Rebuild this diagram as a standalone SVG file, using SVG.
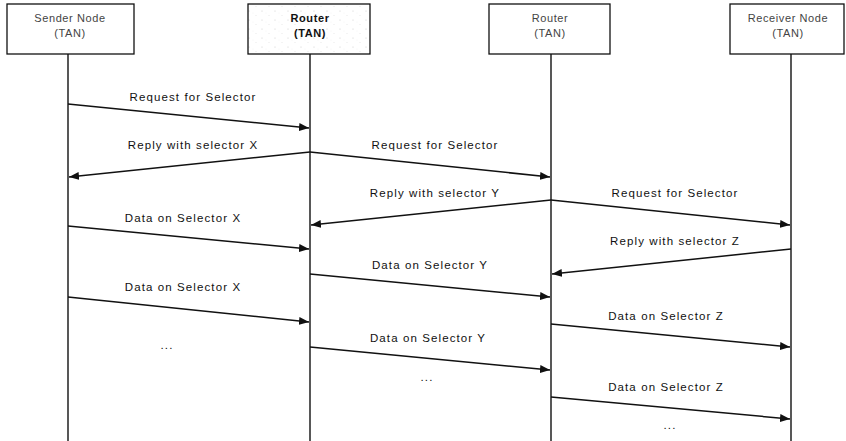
<svg xmlns="http://www.w3.org/2000/svg" width="846" height="441" viewBox="0 0 846 441">
  <style>
    .box { fill: #ffffff; stroke: #111; stroke-width: 1.3; }
    .life { stroke: #111; stroke-width: 1.4; fill: none; }
    .msg { stroke: #111; stroke-width: 1.5; fill: none; marker-end: url(#head); }
    .title { font-family: "Liberation Sans", Arial, sans-serif; font-size: 11px; fill: #444; text-anchor: middle; letter-spacing: 0.6px; }
    .title.strong { fill: #111; font-weight: bold; }
    .lbl { font-family: "Liberation Sans", Arial, sans-serif; font-size: 11.5px; fill: #111; text-anchor: middle; letter-spacing: 1.1px; }
  </style>
  <defs>
    <marker id="head" viewBox="0 0 10 8" refX="10" refY="4" markerWidth="10" markerHeight="8" markerUnits="userSpaceOnUse" orient="auto">
      <path d="M0,0 L10,4 L0,8 z" fill="#111"/>
    </marker>
    <!-- light speckle texture for the shaded router box -->
    <pattern id="stipple" width="13" height="9" patternUnits="userSpaceOnUse">
      <rect width="13" height="9" fill="#fff"/>
      <circle cx="2" cy="2" r="0.5" fill="#c8c8c8"/>
      <circle cx="9" cy="6.5" r="0.45" fill="#d4d4d4"/>
      <circle cx="6" cy="4" r="0.35" fill="#dddddd"/>
    </pattern>
  </defs>

  <g id="sender">
    <rect class="box" x="7" y="4" width="127" height="50"/>
    <text class="title" x="70" y="22">Sender Node</text>
    <text class="title" x="70" y="37">(TAN)</text>
    <line class="life" x1="68" y1="54" x2="68" y2="441"/>
  </g>

  <g id="router-a">
    <rect class="box" x="248" y="4" width="122" height="50" style="fill:url(#stipple)"/>
    <text class="title strong" x="310" y="22">Router</text>
    <text class="title strong" x="310" y="37">(TAN)</text>
    <line class="life" x1="310" y1="54" x2="310" y2="441"/>
  </g>

  <g id="router-b">
    <rect class="box" x="489" y="4" width="121" height="50"/>
    <text class="title" x="550" y="22">Router</text>
    <text class="title" x="550" y="37">(TAN)</text>
    <line class="life" x1="551" y1="54" x2="551" y2="441"/>
  </g>

  <g id="receiver">
    <rect class="box" x="730" y="4" width="114" height="50"/>
    <text class="title" x="788" y="22">Receiver Node</text>
    <text class="title" x="788" y="37">(TAN)</text>
    <line class="life" x1="791" y1="54" x2="791" y2="441"/>
  </g>

  <g id="messages">
    <line class="msg" x1="68" y1="104" x2="309" y2="128"/>
    <line class="msg" x1="310" y1="152" x2="69" y2="177"/>
    <line class="msg" x1="310" y1="152" x2="550" y2="177"/>
    <line class="msg" x1="551" y1="200" x2="311" y2="225"/>
    <line class="msg" x1="551" y1="200" x2="790" y2="225"/>
    <line class="msg" x1="791" y1="249" x2="552" y2="274"/>
    <line class="msg" x1="68" y1="226" x2="309" y2="249"/>
    <line class="msg" x1="310" y1="274" x2="550" y2="297"/>
    <line class="msg" x1="68" y1="297" x2="309" y2="322"/>
    <line class="msg" x1="551" y1="324" x2="790" y2="347"/>
    <line class="msg" x1="310" y1="347" x2="550" y2="370"/>
    <line class="msg" x1="551" y1="397" x2="790" y2="419"/>
  </g>

  <g id="labels">
    <text class="lbl" x="193" y="101">Request for Selector</text>
    <text class="lbl" x="193" y="149">Reply with selector X</text>
    <text class="lbl" x="435" y="149">Request for Selector</text>
    <text class="lbl" x="435" y="197">Reply with selector Y</text>
    <text class="lbl" x="675" y="197">Request for Selector</text>
    <text class="lbl" x="675" y="245">Reply with selector Z</text>
    <text class="lbl" x="183" y="222">Data on Selector X</text>
    <text class="lbl" x="430" y="269">Data on Selector Y</text>
    <text class="lbl" x="183" y="291">Data on Selector X</text>
    <text class="lbl" x="666" y="320">Data on Selector Z</text>
    <text class="lbl" x="428" y="342">Data on Selector Y</text>
    <text class="lbl" x="666" y="391">Data on Selector Z</text>
    <text class="lbl" x="167" y="349">...</text>
    <text class="lbl" x="427" y="381">...</text>
    <text class="lbl" x="670" y="429">...</text>
  </g>
</svg>
